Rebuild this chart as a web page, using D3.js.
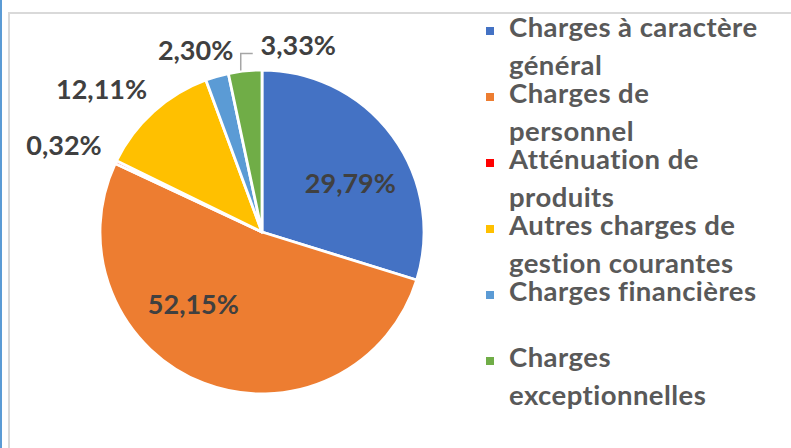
<!DOCTYPE html>
<html><head><meta charset="utf-8">
<script src="https://cdn.jsdelivr.net/npm/d3@7"></script>
<style>html,body{margin:0;padding:0;background:#fff;}svg{display:block;}</style>
</head><body>
<svg id="chart" width="791" height="448"></svg>
<script>
const categories = ["Charges à caractère général","Charges de personnel","Atténuation de produits","Autres charges de gestion courantes","Charges financières","Charges exceptionnelles"];
const legendLines = [["Charges à caractère","général"],["Charges de","personnel"],["Atténuation de","produits"],["Autres charges de","gestion courantes"],["Charges financières"],["Charges","exceptionnelles"]];
const values = [29.79, 52.15, 0.32, 12.11, 2.30, 3.33];
const labels = ["29,79%","52,15%","0,32%","12,11%","2,30%","3,33%"];
const colors = ["#4472c4","#ed7d31","#ff0000","#ffc000","#5b9bd5","#70ad47"];

const svg = d3.select("#chart");
// frame
svg.append("rect").attr("x",0).attr("y",0).attr("width",2).attr("height",448).attr("fill","#5b9bd5");
svg.append("line").attr("x1",9).attr("x2",9).attr("y1",12).attr("y2",448).attr("stroke","#d9d9d9").attr("stroke-width",2);
svg.append("line").attr("x1",8).attr("x2",791).attr("y1",13).attr("y2",13).attr("stroke","#d9d9d9").attr("stroke-width",2);

const cx = 262, cy = 232, R = 162;
const pie = d3.pie().sort(null).value(d => d);
const arcs = pie(values);
const arc = d3.arc().innerRadius(0).outerRadius(R);
const g = svg.append("g").attr("transform",`translate(${cx},${cy})`);
g.selectAll("path").data(arcs).enter().append("path")
  .attr("d",arc).attr("fill",(d,i)=>colors[i])
  .attr("stroke","#fff").attr("stroke-width",2.8).attr("stroke-linejoin","round");

// label placement: polar (angle nudge in degrees, radius)
const labelLayout = [
  {da: 8, r: 0.62*R},
  {da: 22, r: 0.62*R},
  {da: -2, r: R+54},
  {da: -6.5, r: R+52},
  {da: -4, r: R+31},
  {da: 17, r: R+28}
];
const font = "Lato, 'Open Sans', sans-serif";
arcs.forEach((a,i)=>{
  const mid = (a.startAngle + a.endAngle)/2 + labelLayout[i].da*Math.PI/180;
  const rr = labelLayout[i].r;
  const x = Math.sin(mid)*rr, y = -Math.cos(mid)*rr;
  g.append("text").attr("x",x).attr("y",y+9)
    .attr("text-anchor","middle")
    .attr("font-family",font).attr("font-weight",700).attr("font-size",27)
    .attr("fill","#404040").text(labels[i]);
});
// leader line for last slice
{
  const a = arcs[5];
  const mid = (a.startAngle + a.endAngle)/2 - 1.5*Math.PI/180;
  const x0 = Math.sin(mid)*(R+1), y0 = -Math.cos(mid)*(R+1);
  const y1 = -Math.cos(mid)*(R+18);
  g.append("path").attr("d",`M${x0},${y0}V${y1}H${x0+12}`)
    .attr("fill","none").attr("stroke","#a6a6a6").attr("stroke-width",1.5);
}

// legend
const lg = svg.append("g").attr("transform","translate(486,0)");
const itemStart = 37, itemStep = 66, lineStep = 38;
legendLines.forEach((lines,i)=>{
  const by = itemStart + i*itemStep;
  lg.append("rect").attr("x",0).attr("y",by-10).attr("width",8).attr("height",8).attr("fill",colors[i]);
  const t = lg.append("text").attr("font-family",font).attr("font-weight",700).attr("font-size",27.5)
    .attr("letter-spacing",0.45).attr("fill","#595959");
  lines.forEach((ln,j)=>{
    t.append("tspan").attr("x",23).attr("y",by + j*lineStep).text(ln);
  });
});
</script>
</body></html>
